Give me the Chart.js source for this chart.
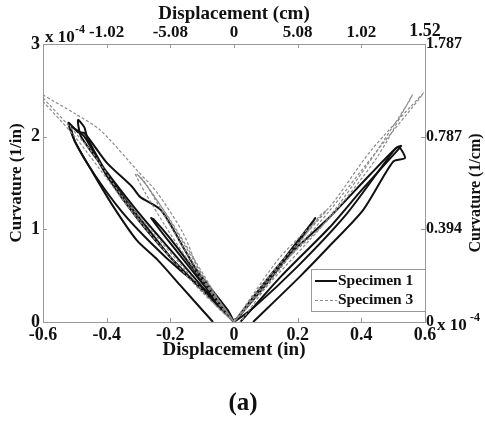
<!DOCTYPE html>
<html>
<head>
<meta charset="utf-8">
<script src="https://cdn.jsdelivr.net/npm/chart.js@4.4.1/dist/chart.umd.min.js"></script>
<style>
  html, body { margin: 0; padding: 0; background: #fff; }
  #wrap { position: relative; width: 485px; height: 421px; }
</style>
</head>
<body>
<div id="wrap"><canvas id="curv" width="485" height="421"></canvas></div>
<script>
// ---- data: [displacement (in), curvature (1/in)]
const s1LeftA = [[0,0],[-0.066,0.27],[-0.17,0.56],[-0.26,0.85],[-0.35,1.18],[-0.44,1.6],[-0.5,1.95],[-0.52,2.15],[-0.49,2.05],[-0.47,2.04],[-0.40,1.72],[-0.32,1.46],[-0.295,1.35],[-0.23,1.21],[-0.16,0.81],[-0.117,0.56],[-0.02,0.13],[0,0]];
const s1LeftB = [[-0.066,0],[-0.17,0.4],[-0.24,0.67],[-0.305,0.88],[-0.38,1.25],[-0.45,1.65],[-0.5,1.95],[-0.51,2.1],[-0.47,2.0],[-0.40,1.58],[-0.30,1.1],[-0.2,0.7],[-0.1,0.35],[0,0]];
const s1LeftC = [[0,0],[-0.1,0.38],[-0.2,0.78],[-0.3,1.18],[-0.4,1.62],[-0.48,2.0],[-0.49,2.18],[-0.47,2.1],[-0.46,1.98],[-0.38,1.5],[-0.28,1.05],[-0.18,0.62],[-0.08,0.28],[0,0]];
const s1LeftSmall = [[0,0],[-0.1,0.42],[-0.2,0.85],[-0.26,1.12],[-0.25,1.1],[-0.2,0.9],[-0.1,0.45],[0,0]];
const s1RightA = [[0,0],[0.145,0.63],[0.30,1.13],[0.43,1.6],[0.51,1.88],[0.525,1.9],[0.50,1.8],[0.40,1.42],[0.3,1.02],[0.15,0.5],[0.02,0]];
const s1RightB = [[0.06,0],[0.207,0.49],[0.3,0.82],[0.406,1.21],[0.5,1.73],[0.537,1.77],[0.515,1.89],[0.47,1.7],[0.35,1.15],[0.2,0.6],[0.06,0.15],[0,0]];
const s1RightSmall = [[0,0],[0.1,0.4],[0.2,0.85],[0.255,1.12],[0.24,1.05],[0.15,0.65],[0.05,0.2],[0,0]];

const s3LeftA = [[-0.6,2.45],[-0.5,2.25],[-0.42,2.07],[-0.3,1.62],[-0.24,1.39],[-0.16,0.96],[-0.107,0.53],[-0.05,0.2],[0,0],[-0.05,0.15],[-0.15,0.55],[-0.25,0.95],[-0.35,1.35],[-0.45,1.85],[-0.6,2.42]];
const s3LeftB = [[-0.6,2.38],[-0.5,2.0],[-0.4,1.55],[-0.3,1.1],[-0.2,0.7],[-0.1,0.32],[0,0]];
const s3LeftSmall = [[0,0],[-0.1,0.45],[-0.2,0.95],[-0.28,1.4],[-0.31,1.6],[-0.29,1.55],[-0.22,1.2],[-0.15,0.8],[-0.08,0.4],[0,0]];
const s3LeftSmall2 = [[0,0],[-0.1,0.48],[-0.19,0.98],[-0.27,1.45],[-0.3,1.58],[-0.28,1.5],[-0.2,1.1],[-0.12,0.65],[-0.05,0.25],[0,0]];
const s3RightA = [[0,0],[0.145,0.70],[0.30,1.24],[0.43,1.85],[0.595,2.47],[0.58,2.4],[0.45,1.85],[0.3,1.2],[0.15,0.6],[0.02,0]];
const s3RightB = [[0,0],[0.15,0.62],[0.3,1.12],[0.45,1.78],[0.56,2.45],[0.55,2.38],[0.42,1.7],[0.28,1.05],[0.12,0.45],[0,0]];
const s3RightSmall = [[0,0],[0.1,0.45],[0.2,0.85],[0.29,1.2],[0.27,1.15],[0.15,0.6],[0,0]];

// tick labels
const bottomTicks = [-0.6, -0.4, -0.2, 0, 0.2, 0.4, 0.6];
const topTickLabels = { '-0.4': '-1.02', '-0.2': '-5.08', '0': '0', '0.2': '5.08', '0.4': '1.02', '0.6': '1.52' };
const rightTickLabels = { '0': '0', '1': '0.394', '2': '0.787', '3': '1.787' };

const serif = '"Liberation Serif", "Times New Roman", serif';

function pts(arr) { return arr.map(p => ({ x: p[0], y: p[1] })); }

const spec1 = [s1LeftA, s1LeftB, s1LeftC, s1LeftSmall, s1RightA, s1RightB, s1RightSmall];
const spec3 = [s3LeftA, s3LeftB, s3LeftSmall, s3LeftSmall2, s3RightA, s3RightB, s3RightSmall];

const datasets = [];
spec3.forEach(d => datasets.push({
  data: pts(d), showLine: true, pointRadius: 0, tension: 0.25,
  borderColor: '#8a8a8a', borderWidth: 1.2, borderDash: [3, 2]
}));
spec1.forEach(d => datasets.push({
  data: pts(d), showLine: true, pointRadius: 0, tension: 0.25,
  borderColor: '#111', borderWidth: 2
}));

function fmt(v) { return String(Math.round(v * 10) / 10); }

const extras = {
  id: 'extras',
  afterDraw(chart) {
    const c = chart.ctx, a = chart.chartArea;
    const sx = chart.scales.x, sy = chart.scales.y;
    c.save();
    // inward tick marks
    c.strokeStyle = '#999'; c.lineWidth = 1;
    c.beginPath();
    bottomTicks.forEach(v => {
      const px = Math.round(sx.getPixelForValue(v)) + 0.5;
      c.moveTo(px, a.bottom); c.lineTo(px, a.bottom - 4);
      c.moveTo(px, a.top); c.lineTo(px, a.top + 4);
    });
    [0, 1, 2, 3].forEach(v => {
      const py = Math.round(sy.getPixelForValue(v)) + 0.5;
      c.moveTo(a.left, py); c.lineTo(a.left + 4, py);
      c.moveTo(a.right, py); c.lineTo(a.right - 4, py);
    });
    c.stroke();

    c.fillStyle = '#111';
    c.font = 'bold 19px ' + serif;
    c.textAlign = 'center'; c.textBaseline = 'middle';
    c.fillText('Displacement (cm)', sx.getPixelForValue(0), 14);
    c.fillText('Displacement (in)', sx.getPixelForValue(0), 350);
    c.font = 'bold 25px ' + serif;
    c.fillText('(a)', 243, 404);

    c.font = 'bold 17px ' + serif;
    c.save(); c.translate(17, 183); c.rotate(-Math.PI / 2);
    c.fillText('Curvature (1/in)', 0, 0); c.restore();
    c.font = 'bold 16px ' + serif;
    c.save(); c.translate(476, 193); c.rotate(-Math.PI / 2);
    c.fillText('Curvature (1/cm)', 0, 0); c.restore();

    // top-right "1.52" sits higher and larger in the original
    c.font = 'bold 18px ' + serif;
    c.fillText(topTickLabels['0.6'], sx.getPixelForValue(0.6), 31);

    // exponent labels
    c.textAlign = 'left'; c.textBaseline = 'alphabetic';
    c.font = 'bold 17px ' + serif;
    c.fillText('x 10', 45, 42);
    c.fillText('x 10', 437, 330);
    c.font = 'bold 12px ' + serif;
    c.fillText('-4', 75, 33);
    c.fillText('-4', 470, 321);

    // legend
    const lx = 311, ly = 269, lw = 114, lh = 42;
    c.fillStyle = '#fff'; c.fillRect(lx, ly, lw, lh);
    c.strokeStyle = '#999'; c.lineWidth = 1;
    c.strokeRect(lx + 0.5, ly + 0.5, lw, lh);
    c.strokeStyle = '#111'; c.lineWidth = 2;
    c.beginPath(); c.moveTo(315, 281); c.lineTo(337, 281); c.stroke();
    c.strokeStyle = '#8a8a8a'; c.lineWidth = 1.2; c.setLineDash([3, 2]);
    c.beginPath(); c.moveTo(315, 300.5); c.lineTo(337, 300.5); c.stroke();
    c.setLineDash([]);
    c.fillStyle = '#111'; c.font = 'bold 15.5px ' + serif;
    c.textBaseline = 'middle';
    c.fillText('Specimen 1', 338, 281);
    c.fillText('Specimen 3', 338, 300);
    c.restore();
  }
};

const noGrid = { display: false, drawTicks: false };

new Chart(document.getElementById('curv'), {
  type: 'scatter',
  data: { datasets },
  options: {
    responsive: false,
    animation: false,
    layout: { padding: 0 },
    plugins: { legend: { display: false }, tooltip: { enabled: false } },
    scales: {
      x: {
        type: 'linear', position: 'bottom', min: -0.6, max: 0.6,
        afterBuildTicks: s => { s.ticks = bottomTicks.map(v => ({ value: v })); },
        afterFit: s => { s.height = 99; },
        grid: noGrid,
        border: { display: true, color: '#999' },
        ticks: { padding: 3, color: '#111', font: { family: serif, size: 18, weight: 'bold' },
                 maxRotation: 0, callback: v => fmt(v) }
      },
      x2: {
        type: 'linear', position: 'top', min: -0.6, max: 0.6,
        afterBuildTicks: s => { s.ticks = bottomTicks.slice(1, 6).map(v => ({ value: v })); },
        afterFit: s => { s.height = 44; },
        grid: noGrid,
        border: { display: true, color: '#999' },
        ticks: { padding: 1, color: '#111', font: { family: serif, size: 17, weight: 'bold' },
                 maxRotation: 0, callback: v => topTickLabels[fmt(v)] }
      },
      y: {
        type: 'linear', position: 'left', min: 0, max: 3,
        afterBuildTicks: s => { s.ticks = [0, 1, 2, 3].map(v => ({ value: v })); },
        afterFit: s => { s.width = 43; },
        grid: noGrid,
        border: { display: true, color: '#999' },
        ticks: { padding: 3, color: '#111', font: { family: serif, size: 18, weight: 'bold' } }
      },
      y2: {
        type: 'linear', position: 'right', min: 0, max: 3,
        afterBuildTicks: s => { s.ticks = [0, 1, 2, 3].map(v => ({ value: v })); },
        afterFit: s => { s.width = 60; },
        grid: noGrid,
        border: { display: true, color: '#999' },
        ticks: { padding: 1, color: '#111', font: { family: serif, size: 16, weight: 'bold' },
                 callback: v => rightTickLabels[String(v)] }
      }
    }
  },
  plugins: [extras]
});
</script>
</body>
</html>
